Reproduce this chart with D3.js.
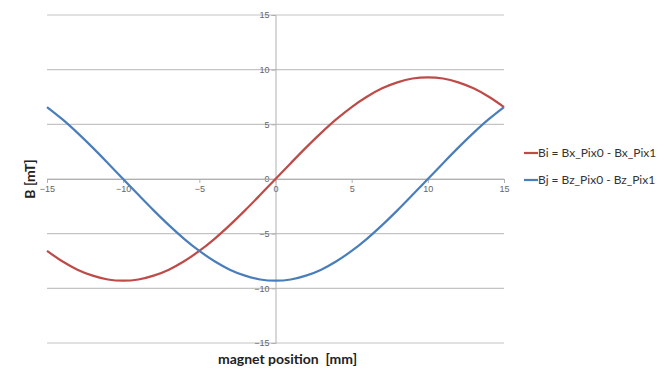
<!DOCTYPE html>
<html>
<head>
<meta charset="utf-8">
<script src="https://cdn.jsdelivr.net/npm/d3@7"></script>
<style>
  body { margin: 0; background: #fff; }
  svg { display: block; font-family: Lato, "Open Sans", sans-serif; }
</style>
</head>
<body>
<div id="chart"></div>
<script>
// magnet position [mm]
var positions = [-15,-14,-13,-12,-11,-10,-9,-8,-7,-6,-5,-4,-3,-2,-1,0,1,2,3,4,5,6,7,8,9,10,11,12,13,14,15];
// Bi = Bx_Pix0 - Bx_Pix1 [mT]
var biValues = [-6.58,-7.52,-8.29,-8.84,-9.19,-9.3,-9.19,-8.84,-8.29,-7.52,-6.58,-5.47,-4.22,-2.87,-1.45,0,1.45,2.87,4.22,5.47,6.58,7.52,8.29,8.84,9.19,9.3,9.19,8.84,8.29,7.52,6.58];
// Bj = Bz_Pix0 - Bz_Pix1 [mT]
var bjValues = [6.58,5.47,4.22,2.87,1.45,0,-1.45,-2.87,-4.22,-5.47,-6.58,-7.52,-8.29,-8.84,-9.19,-9.3,-9.19,-8.84,-8.29,-7.52,-6.58,-5.47,-4.22,-2.87,-1.45,0,1.45,2.87,4.22,5.47,6.58];
var xTicks = [-15,-10,-5,0,5,10,15];
var yTicks = [-15,-10,-5,0,5,10,15];
var seriesNames = ['Bi = Bx_Pix0 - Bx_Pix1', 'Bj = Bz_Pix0 - Bz_Pix1'];
var seriesColors = ['#be4b48', '#4a7ebb'];

(function(){
  var W = 671, H = 374;
  var plot = { left: 47, right: 504, top: 15, bottom: 343 };

  var svg = d3.select('#chart').append('svg').attr('width', W).attr('height', H);

  var x = d3.scaleLinear().domain([-15, 15]).range([plot.left, plot.right]);
  var y = d3.scaleLinear().domain([-15, 15]).range([plot.bottom, plot.top]);

  // horizontal gridlines
  svg.append('g').selectAll('line').data(yTicks).enter().append('line')
    .attr('x1', plot.left).attr('x2', plot.right)
    .attr('y1', function(d){ return y(d); }).attr('y2', function(d){ return y(d); })
    .attr('stroke', '#c4c4c4').attr('stroke-width', 1.2);

  // vertical axis at x=0
  var ya = svg.append('g').attr('transform', 'translate(' + x(0) + ',0)')
    .call(d3.axisLeft(y).tickValues(yTicks).tickSize(4).tickPadding(2));
  ya.selectAll('path, line').attr('stroke', '#b0b0b0');
  ya.selectAll('text').style('font-size', '9px').style('fill', '#666');

  // horizontal axis at y=0
  var xa = svg.append('g').attr('transform', 'translate(0,' + y(0) + ')')
    .call(d3.axisBottom(x).tickValues(xTicks).tickSize(4).tickPadding(3));
  xa.selectAll('path, line').attr('stroke', '#b0b0b0');
  xa.selectAll('text').style('font-size', '9px').style('fill', '#666');

  var line = d3.line().curve(d3.curveCatmullRom.alpha(0.5))
    .x(function(d){ return x(d[0]); })
    .y(function(d){ return y(d[1]); });

  [biValues, bjValues].forEach(function(vals, i){
    svg.append('path')
      .datum(positions.map(function(p, j){ return [p, vals[j]]; }))
      .attr('fill', 'none')
      .attr('stroke', seriesColors[i])
      .attr('stroke-width', 2.2)
      .attr('stroke-linejoin', 'round')
      .attr('d', line);
  });

  // axis titles
  svg.append('text')
    .attr('transform', 'translate(35,' + ((plot.top + plot.bottom) / 2) + ') rotate(-90)')
    .attr('text-anchor', 'middle')
    .style('font-size', '14px').style('font-weight', '700').style('fill', '#222')
    .text('B [mT]');
  svg.append('text')
    .attr('x', x(0) + 12).attr('y', 364)
    .attr('text-anchor', 'middle')
    .style('white-space', 'pre')
    .style('font-size', '14px').style('font-weight', '700').style('fill', '#222')
    .text('magnet position  [mm]');

  // legend
  var lg = svg.append('g').attr('transform', 'translate(524,153)');
  seriesNames.forEach(function(name, i){
    var row = lg.append('g').attr('transform', 'translate(0,' + (i * 27) + ')');
    row.append('line').attr('x1', 0).attr('x2', 14).attr('y1', 0).attr('y2', 0)
      .attr('stroke', seriesColors[i]).attr('stroke-width', 2.2);
    row.append('text').attr('x', 14).attr('y', 4)
      .style('font-size', '12px').style('fill', '#333').text(name);
  });
})();
</script>
</body>
</html>
